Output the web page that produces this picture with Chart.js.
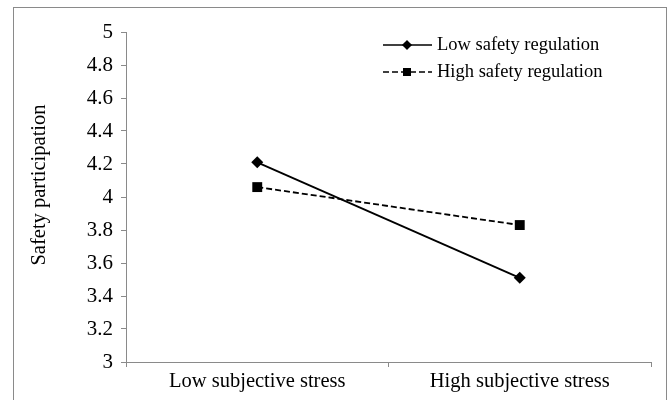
<!DOCTYPE html>
<html>
<head>
<meta charset="utf-8">
<script src="https://cdn.jsdelivr.net/npm/chart.js@4/dist/chart.umd.min.js"></script>
<style>
html,body{margin:0;padding:0;background:#fff;}
#wrap{width:669px;height:400px;position:relative;}
</style>
</head>
<body>
<div id="wrap"><canvas id="c" width="669" height="400"></canvas></div>
<script>
const categories = ["Low subjective stress", "High subjective stress"];
const lowSafetyRegulation = [4.21, 3.51];
const highSafetyRegulation = [4.06, 3.83];
const yTicks = [3, 3.2, 3.4, 3.6, 3.8, 4, 4.2, 4.4, 4.6, 4.8, 5];
const seriesNames = ["Low safety regulation", "High safety regulation"];
const yTitle = "Safety participation";

const FONT = "'Liberation Serif', 'Times New Roman', serif";

const frame = {
  id: 'frame',
  beforeDraw(chart) {
    const ctx = chart.ctx;
    ctx.save();
    ctx.fillStyle = '#fff';
    ctx.fillRect(0, 0, chart.width, chart.height);
    ctx.strokeStyle = '#8a8a8a';
    ctx.lineWidth = 1;
    ctx.strokeRect(13.5, 7.5, 653, 400);
    ctx.restore();
  },
  afterDraw(chart) {
    const ctx = chart.ctx;
    ctx.save();
    ctx.translate(40, 185);
    ctx.rotate(-Math.PI / 2);
    ctx.fillStyle = '#000';
    ctx.font = "20.5px " + FONT;
    ctx.textAlign = 'center';
    ctx.textBaseline = 'middle';
    ctx.fillText(yTitle, 0, 0);
    ctx.restore();
  }
};

const legendPlugin = {
  id: 'customLegend',
  afterDraw(chart) {
    const ctx = chart.ctx;
    ctx.save();
    const rows = [45, 72];
    chart.data.datasets.forEach((ds, i) => {
      const y = rows[i];
      const x0 = 383, x1 = 432, xm = 407;
      ctx.strokeStyle = '#000';
      ctx.lineWidth = 1.5;
      ctx.setLineDash(ds.borderDash || []);
      ctx.beginPath();
      ctx.moveTo(x0, y);
      ctx.lineTo(x1, y);
      ctx.stroke();
      ctx.setLineDash([]);
      Chart.helpers.drawPoint(ctx, {pointStyle: ds.pointStyle, radius: ds.pointRadius * 0.8, rotation: 0, borderWidth: 0}, xm, y);
      ctx.fillStyle = '#000';
      ctx.fill();
      ctx.fillStyle = '#000';
      ctx.font = "18.5px " + FONT;
      ctx.textBaseline = 'middle';
      ctx.textAlign = 'left';
      ctx.fillText(ds.label, 437, y);
    });
    ctx.restore();
  }
};

new Chart(document.getElementById('c'), {
  type: 'line',
  data: {
    labels: categories,
    datasets: [
      {
        label: seriesNames[0],
        data: lowSafetyRegulation,
        borderColor: '#000',
        backgroundColor: '#000',
        borderWidth: 1.8,
        pointStyle: 'rectRot',
        pointRadius: 6,
        pointBorderWidth: 0,
        fill: false,
        tension: 0
      },
      {
        label: seriesNames[1],
        data: highSafetyRegulation,
        borderColor: '#000',
        backgroundColor: '#000',
        borderWidth: 1.8,
        borderDash: [6, 3],
        pointStyle: 'rect',
        pointRadius: 7,
        pointBorderWidth: 0,
        fill: false,
        tension: 0
      }
    ]
  },
  options: {
    responsive: false,
    animation: false,
    devicePixelRatio: 1,
    layout: { padding: { left: 0, right: 18, top: 32, bottom: 0 } },
    plugins: {
      legend: { display: false },
      tooltip: { enabled: false }
    },
    scales: {
      x: {
        type: 'category',
        offset: true,
        grid: { offset: true, drawOnChartArea: false, drawTicks: true, tickLength: 5, color: '#8a8a8a' },
        border: { color: '#8a8a8a', width: 1 },
        ticks: { color: '#000', font: { family: FONT, size: 20.5 }, padding: 2, maxRotation: 0 },
        afterFit(scale) { scale.height = 38; }
      },
      y: {
        min: 3,
        max: 5,
        afterBuildTicks(scale) { scale.ticks = yTicks.map(v => ({ value: v })); },
        grid: { drawOnChartArea: false, drawTicks: true, tickLength: 5, color: '#8a8a8a' },
        border: { color: '#8a8a8a', width: 1 },
        ticks: {
          color: '#000',
          font: { family: FONT, size: 21 },
          padding: 8,
          callback: (v) => String(Math.round(v * 10) / 10)
        },
        afterFit(scale) { scale.width = 126; }
      }
    }
  },
  plugins: [frame, legendPlugin]
});
</script>
</body>
</html>
